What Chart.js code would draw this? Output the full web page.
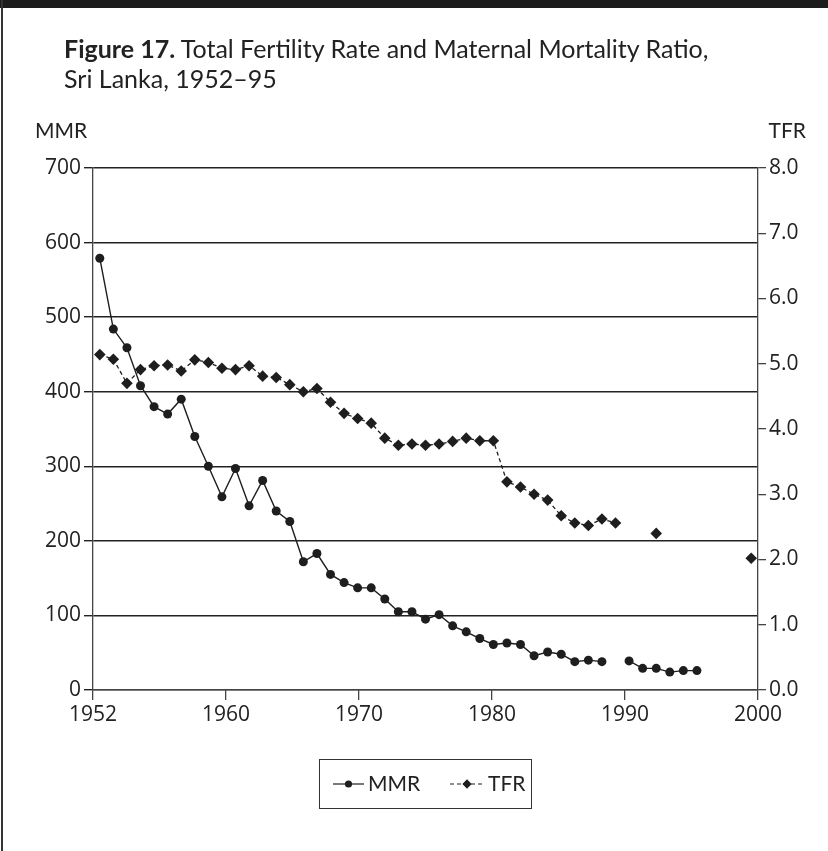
<!DOCTYPE html>
<html>
<head>
<meta charset="utf-8">
<script src="https://cdn.jsdelivr.net/npm/chart.js@4/dist/chart.umd.min.js"></script>
<style>
  html, body { margin: 0; padding: 0; background: #fff; }
  #wrap { position: relative; width: 828px; height: 851px; overflow: hidden; }
  #bar { position: absolute; left: 0; top: 0; width: 828px; height: 8px; background: #1c1c1c; }
  #edge { position: absolute; left: 1px; top: 0; width: 2px; height: 851px; background: #333; }
  #title { position: absolute; left: 64px; top: 33px; font-family: Lato, sans-serif; font-size: 25px; line-height: 30px; color: #222; }
  canvas { position: absolute; left: 0; top: 0; }
</style>
</head>
<body>
<div id="wrap">
  <canvas id="chart" width="828" height="851"></canvas>
  <div id="bar"></div>
  <div id="edge"></div>
  <div id="title"><b>Figure 17.</b> Total Fertility Rate and Maternal Mortality Ratio,<br>Sri Lanka, 1952–95</div>
</div>
<script>
/* DATA */
const years = [1952, 1953, 1954, 1955, 1956, 1957, 1958, 1959, 1960, 1961,
  1962, 1963, 1964, 1965, 1966, 1967, 1968, 1969, 1970, 1971,
  1972, 1973, 1974, 1975, 1976, 1977, 1978, 1979, 1980, 1981,
  1982, 1983, 1984, 1985, 1986, 1987, 1988, 1989, 1990, 1991,
  1992, 1993, 1994, 1995, 1996, 1997, 1998, 1999, 2000];

const mmr = [579, 484, 459, 408, 380, 370, 390, 340, 300, 259,
  297, 247, 281, 240, 226, 172, 183, 155, 144, 137,
  137, 122, 105, 105, 95, 101, 86, 78, 69, 61,
  63, 61, 46, 51, 48, 38, 40, 38, null, 39,
  29, 29, 24, 26, 26, null, null, null, null];

const tfr = [5.14, 5.07, 4.70, 4.91, 4.97, 4.98, 4.89, 5.06, 5.02, 4.93,
  4.91, 4.97, 4.81, 4.79, 4.68, 4.57, 4.62, 4.41, 4.24, 4.16,
  4.09, 3.86, 3.75, 3.77, 3.75, 3.77, 3.81, 3.86, 3.82, 3.82,
  3.19, 3.11, 3.00, 2.91, 2.67, 2.56, 2.52, 2.62, 2.56, null,
  null, 2.40, null, null, null, null, null, null, 2.02];

const xTickLabels = ["1952", "1960", "1970", "1980", "1990", "2000"];
const axisNames = ["MMR", "TFR"];

const FONT = "Lato, sans-serif";
const NUMFONT = "'Open Sans', sans-serif";
const INK = "#1e1e1e";

/* PLUGIN: unit labels + boxed legend */
const extras = {
  id: "extras",
  afterDraw(chart) {
    const c = chart.ctx;
    c.save();
    c.fillStyle = "#222";
    c.font = "21px " + FONT;
    c.textBaseline = "middle";
    c.textAlign = "left";
    c.fillText(axisNames[0], 35, 131);
    c.textAlign = "right";
    c.fillText(axisNames[1], 806, 131);

    // legend box
    c.strokeStyle = "#333";
    c.lineWidth = 1;
    c.strokeRect(319.5, 759.5, 212, 49);

    const items = [{ x: 333, w: 31 }, { x: 450, w: 34 }];
    chart.data.datasets.forEach((ds, i) => {
      const it = items[i], y = 784;
      c.strokeStyle = ds.borderColor;
      c.lineWidth = 1.2;
      c.setLineDash(ds.borderDash || []);
      c.beginPath();
      c.moveTo(it.x, y);
      c.lineTo(it.x + it.w, y);
      c.stroke();
      c.setLineDash([]);
      c.fillStyle = ds.pointBackgroundColor;
      Chart.helpers.drawPoint(c, { pointStyle: ds.pointStyle, radius: ds.pointRadius * 0.8, borderWidth: 0 }, it.x + it.w / 2, y);
      c.fillStyle = "#222";
      c.textAlign = "left";
      c.fillText(ds.label, it.x + it.w + 4, y);
    });
    c.restore();
  }
};

const tickFont = { family: NUMFONT, size: 21 };

new Chart(document.getElementById("chart"), {
  type: "line",
  data: {
    datasets: [
      {
        label: "MMR",
        data: years.map((y, i) => ({ x: y, y: mmr[i] })),
        yAxisID: "yL",
        borderColor: INK,
        borderWidth: 1.4,
        pointStyle: "circle",
        pointRadius: 4.5,
        pointBackgroundColor: INK,
        pointBorderWidth: 0,
        spanGaps: false,
        tension: 0
      },
      {
        label: "TFR",
        data: years.map((y, i) => ({ x: y, y: tfr[i] })),
        yAxisID: "yR",
        borderColor: INK,
        borderWidth: 1.3,
        borderDash: [4, 3],
        pointStyle: "rectRot",
        pointRadius: 5.8,
        pointBackgroundColor: INK,
        pointBorderWidth: 0,
        spanGaps: false,
        tension: 0
      }
    ]
  },
  options: {
    responsive: false,
    animation: false,
    layout: { padding: { top: 168, left: 0, right: 0, bottom: 0 } },
    plugins: { legend: { display: false }, tooltip: { enabled: false } },
    scales: {
      x: {
        type: "linear",
        min: 1951.5,
        max: 2000.5,
        afterBuildTicks: s => {
          const n = xTickLabels.length - 1;
          s.ticks = xTickLabels.map((t, k) => ({ value: s.min + k * (s.max - s.min) / n }));
        },
        afterFit: s => { s.height = 161; },
        ticks: {
          autoSkip: false, maxRotation: 0, padding: 2,
          color: "#222", font: tickFont,
          callback: (v, i) => xTickLabels[i]
        },
        grid: { drawOnChartArea: false, drawTicks: true, tickLength: 10, color: "#444", lineWidth: 1.3 },
        border: { color: "#444", width: 1.3 }
      },
      yL: {
        position: "left",
        min: 0, max: 700,
        afterFit: s => { s.width = 93; },
        ticks: { stepSize: 100, padding: 3, color: "#222", font: tickFont },
        grid: { color: "#222", lineWidth: 1.4, tickLength: 9 },
        border: { color: "#444", width: 1.3 }
      },
      yR: {
        position: "right",
        min: 0, max: 8,
        afterFit: s => { s.width = 70; },
        ticks: { stepSize: 1, padding: 3, color: "#222", font: tickFont, callback: v => v.toFixed(1) },
        grid: { drawOnChartArea: false, color: "#444", lineWidth: 1.3, tickLength: 8 },
        border: { color: "#444", width: 1.3 }
      }
    }
  },
  plugins: [extras]
});
</script>
</body>
</html>
